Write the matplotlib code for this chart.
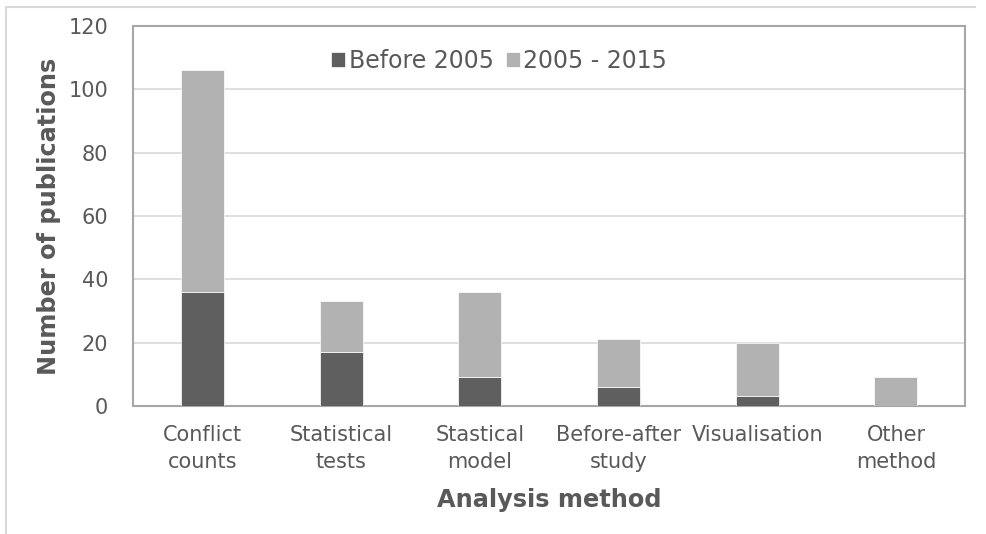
import matplotlib.pyplot as plt
from matplotlib.lines import Line2D
import numpy as np

# Data
methods = ['Conflict\ncounts', 'Statistical\ntests', 'Stastical\nmodel',
           'Before-after\nstudy', 'Visualisation', 'Other\nmethod']
before_2005 = [36, 17, 9, 6, 3, 0]
from_2005_2015 = [70, 16, 27, 15, 17, 9]

dark = '#5f5f5f'
light = '#b2b2b2'
txt = '#595959'

fig = plt.figure(figsize=(9.86, 5.34), dpi=100)
ax = fig.add_axes([0.135, 0.240, 0.844, 0.711])

x = np.arange(len(methods))
ax.bar(x, before_2005, width=0.31, color=dark, edgecolor='white', linewidth=0.5,
       label='Before 2005', zorder=3)
ax.bar(x, from_2005_2015, width=0.31, bottom=before_2005, color=light,
       edgecolor='white', linewidth=0.5, label='2005 - 2015', zorder=3)

ax.set_xlim(-0.5, len(methods) - 0.5)
ax.set_ylim(0, 120)
ax.set_yticks(range(0, 121, 20))
ax.yaxis.grid(True, color='#d9d9d9', linewidth=1.2, zorder=0)
ax.set_xticks(x)
ax.set_xticklabels(methods, fontsize=15, color=txt, linespacing=1.45)
ax.tick_params(axis='y', labelsize=15, labelcolor=txt, length=0, pad=18)
ax.tick_params(axis='x', length=0, pad=14)
for s in ax.spines.values():
    s.set_color('#a6a6a6')
    s.set_linewidth(1.5)

ax.set_ylabel('Number of publications', fontsize=17.3, fontweight='bold',
              color=txt, labelpad=5)
ax.set_xlabel('Analysis method', fontsize=17.3, fontweight='bold', color=txt,
              labelpad=11)

ax.legend(loc='upper center', bbox_to_anchor=(0.44, 0.995), ncol=2, frameon=False,
          fontsize=17, labelcolor=txt, handlelength=0.6, handleheight=0.6,
          handletextpad=0.15, columnspacing=0.5)

# outer chart border (top and left visible)
fig.lines.append(Line2D([0.006, 0.006, 0.989], [0.0, 0.986, 0.986],
                        transform=fig.transFigure, color='#d9d9d9', linewidth=1.5))

fig.savefig('out.png', dpi=100)
